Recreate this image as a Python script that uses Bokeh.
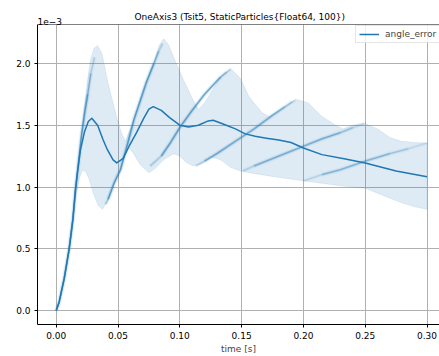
from bokeh.plotting import figure
from bokeh.models import Range1d, FixedTicker, Span, Legend, LegendItem, NumeralTickFormatter, Title
from bokeh.embed import file_html
from bokeh.resources import INLINE

title_text = "OneAxis3 (Tsit5, StaticParticles{Float64, 100})"
x_label = "time [s]"
series_name = "angle_error"
y_exponent_label = "1e\u22123"

x_ticks = [0.00, 0.05, 0.10, 0.15, 0.20, 0.25, 0.30]
y_ticks = [0.0, 0.5, 1.0, 1.5, 2.0]

# mean of the particles (values in units of 1e-3)
mean_t = [0.0, 0.0024, 0.0065, 0.0105, 0.0135, 0.0156, 0.0175, 0.0196, 0.023, 0.026, 0.0288,
          0.0335, 0.038, 0.0415, 0.046, 0.049, 0.054, 0.059, 0.065, 0.071, 0.075, 0.0785,
          0.085, 0.092, 0.100, 0.107, 0.115, 0.123, 0.127, 0.135, 0.145, 0.153, 0.161,
          0.170, 0.180, 0.190, 0.200, 0.215, 0.234, 0.250, 0.275, 0.300]
mean_v = [0.0, 0.07, 0.26, 0.50, 0.74, 0.98, 1.14, 1.30, 1.45, 1.53, 1.557,
          1.50, 1.38, 1.30, 1.22, 1.195, 1.23, 1.33, 1.44, 1.56, 1.63, 1.65,
          1.62, 1.56, 1.50, 1.485, 1.50, 1.535, 1.54, 1.51, 1.47, 1.43, 1.41,
          1.395, 1.38, 1.36, 1.316, 1.262, 1.227, 1.195, 1.13, 1.083]

# upper edge of the particle band
upper_t = [0.0, 0.0024, 0.0065, 0.0105, 0.0132, 0.0165, 0.0207, 0.0253, 0.0277, 0.0305,
           0.0334, 0.037, 0.0415, 0.0455, 0.0496, 0.053, 0.056, 0.0628, 0.070, 0.079,
           0.083, 0.087, 0.091, 0.095, 0.103, 0.111, 0.115, 0.120, 0.133, 0.141,
           0.149, 0.156, 0.1667, 0.172, 0.180, 0.1936, 0.204, 0.215, 0.226, 0.232,
           0.240, 0.249, 0.260, 0.270, 0.279, 0.290, 0.300]
upper_v = [0.0, 0.07, 0.27, 0.52, 0.74, 1.06, 1.46, 1.86, 2.03, 2.12,
           2.146, 2.08, 1.86, 1.70, 1.54, 1.43, 1.37, 1.543, 1.75, 2.00,
           2.14, 2.20, 2.15, 2.05, 1.865, 1.70, 1.63, 1.68, 1.89, 1.96,
           1.88, 1.73, 1.60, 1.57, 1.61, 1.71, 1.68, 1.57, 1.50, 1.47,
           1.50, 1.517, 1.47, 1.40, 1.37, 1.36, 1.356]

# lower edge of the particle band
lower_t = [0.0, 0.0024, 0.0065, 0.0105, 0.0135, 0.016, 0.019, 0.0215, 0.024, 0.0264,
           0.030, 0.034, 0.0375, 0.0415, 0.047, 0.052, 0.055, 0.058, 0.062, 0.068,
           0.075, 0.080, 0.087, 0.095, 0.100, 0.105, 0.111, 0.118, 0.126, 0.133,
           0.141, 0.149, 0.160, 0.172, 0.200, 0.215, 0.230, 0.250, 0.265, 0.279,
           0.290, 0.300]
lower_v = [0.0, 0.06, 0.25, 0.48, 0.70, 0.93, 1.08, 1.14, 1.12, 1.07,
           0.95, 0.85, 0.82, 0.887, 1.035, 1.14, 1.24, 1.32, 1.28, 1.18,
           1.115, 1.15, 1.22, 1.27, 1.25, 1.20, 1.17, 1.19, 1.24, 1.22,
           1.16, 1.13, 1.11, 1.09, 1.05, 1.03, 1.01, 0.99, 0.93, 0.874,
           0.84, 0.82]

# dark ridges where many particles bunch together
ridge1_t = [0.0, 0.0024, 0.0065, 0.0105, 0.0135, 0.0156, 0.018, 0.0205, 0.023, 0.0255, 0.028, 0.031]
ridge1_v = [0.0, 0.07, 0.26, 0.50, 0.74, 0.98, 1.20, 1.42, 1.60, 1.75, 1.92, 2.05]
ridge2_t = [0.040, 0.042, 0.047, 0.052, 0.0575, 0.0628, 0.068, 0.073, 0.079, 0.083, 0.086]
ridge2_v = [0.86, 0.90, 1.035, 1.14, 1.34, 1.543, 1.70, 1.85, 2.00, 2.10, 2.16]
ridge3_t = [0.076, 0.085, 0.0925, 0.1006, 0.110, 0.120, 0.133, 0.138, 0.141]
ridge3_v = [1.17, 1.25, 1.36, 1.49, 1.62, 1.75, 1.89, 1.93, 1.95]
ridge4_t = [0.113, 0.120, 0.130, 0.145, 0.160, 0.175, 0.185, 0.191, 0.1936]
ridge4_v = [1.17, 1.21, 1.27, 1.37, 1.47, 1.58, 1.65, 1.69, 1.70]
ridge5_t = [0.151, 0.160, 0.180, 0.200, 0.215, 0.230, 0.240, 0.249]
ridge5_v = [1.13, 1.17, 1.25, 1.33, 1.39, 1.44, 1.48, 1.51]
ridge6_t = [0.200, 0.215, 0.230, 0.250, 0.270, 0.285, 0.300]
ridge6_v = [1.05, 1.10, 1.14, 1.21, 1.27, 1.31, 1.356]

# (times, values, strength, fade-in at start)
ridges = [(ridge1_t, ridge1_v, 1.0, False), (ridge2_t, ridge2_v, 1.0, True),
          (ridge3_t, ridge3_v, 0.9, True), (ridge4_t, ridge4_v, 0.75, True),
          (ridge5_t, ridge5_v, 0.7, True), (ridge6_t, ridge6_v, 0.6, True)]

BLUE = "#1f77b4"
FONT = "DejaVu Sans"
X0, X1 = -0.01513, 0.31011
Y0, Y1 = -0.1125, 2.315

p = figure(width=439, height=356, output_backend="svg", toolbar_location=None,
           x_range=Range1d(X0, X1), y_range=Range1d(Y0, Y1),
           min_border_left=37, min_border_right=0, min_border_top=24, min_border_bottom=30)
p.background_fill_color = "white"
p.border_fill_color = "white"
p.outline_line_color = None

# offset text of the y axis (row next to the frame)
p.add_layout(Title(text=y_exponent_label, align="left", offset=0, standoff=0,
                   text_font=FONT, text_font_size="9px", text_font_style="normal",
                   text_color="black"), "above")
# main title (outer row, pulled down so that it sits level with the offset text)
p.title = Title(text=title_text, align="left", offset=97, standoff=-13,
                text_font=FONT, text_font_size="9px", text_font_style="normal",
                text_color="black")

# band of particles
band_x = list(upper_t) + list(reversed(lower_t))
band_y = list(upper_v) + list(reversed(lower_v))
p.patch(band_x, band_y, fill_color=BLUE, fill_alpha=0.15, line_color=BLUE, line_alpha=0.1, line_width=1)

# ridges: a solid body plus fading end segments
for rt, rv, s, fade_in in ridges:
    start = 1 if fade_in else 0
    end = len(rt) - 2
    body_t, body_v = rt[start:end], rv[start:end]
    for width, alpha in ((4.5, 0.1), (2.5, 0.25), (1.3, 0.6)):
        p.line(body_t, body_v, line_color=BLUE, line_width=width, line_alpha=alpha * s,
               line_join="round", line_cap="butt")
        seg_x0, seg_y0, seg_x1, seg_y1, seg_a = [], [], [], [], []
        if fade_in:
            seg_x0.append(rt[0]); seg_y0.append(rv[0]); seg_x1.append(rt[1]); seg_y1.append(rv[1])
            seg_a.append(alpha * s * 0.4)
        for i, k in ((end - 1, 0.65), (end, 0.3)):
            seg_x0.append(rt[i]); seg_y0.append(rv[i]); seg_x1.append(rt[i + 1]); seg_y1.append(rv[i + 1])
            seg_a.append(alpha * s * k)
        p.segment(x0=seg_x0, y0=seg_y0, x1=seg_x1, y1=seg_y1, line_color=BLUE, line_width=width,
                  line_alpha=seg_a, line_cap="butt")

mean_r = p.line(mean_t, mean_v, line_color=BLUE, line_width=1.5, line_join="round")

legend = Legend(items=[LegendItem(label=series_name, renderers=[mean_r])], location=(318, 281))
legend.label_text_font = FONT
legend.label_text_font_size = "9px"
legend.glyph_width = 20
legend.glyph_height = 10
legend.label_height = 10
legend.label_standoff = 6
legend.padding = 3
legend.spacing = 0
legend.margin = 0
legend.border_line_color = "#cccccc"
legend.background_fill_alpha = 0.8
p.add_layout(legend)

# axes
for ax in (p.xaxis[0], p.yaxis[0]):
    ax.axis_line_color = "black"
    ax.axis_line_width = 1
    ax.major_tick_line_color = "black"
    ax.major_tick_out = 3
    ax.major_tick_in = 0
    ax.minor_tick_line_color = None
    ax.major_label_text_font = FONT
    ax.major_label_text_font_size = "9px"
    ax.major_label_text_color = "black"
    ax.major_label_standoff = 4

p.xaxis.ticker = FixedTicker(ticks=x_ticks)
p.yaxis.ticker = FixedTicker(ticks=y_ticks)
p.xaxis.formatter = NumeralTickFormatter(format="0.00")
p.yaxis.formatter = NumeralTickFormatter(format="0.0")
p.xaxis.axis_label = x_label
p.xaxis.axis_label_text_font = FONT
p.xaxis.axis_label_text_font_size = "9px"
p.xaxis.axis_label_text_font_style = "normal"
p.xaxis.axis_label_standoff = 2

p.xgrid.ticker = FixedTicker(ticks=x_ticks)
p.ygrid.ticker = FixedTicker(ticks=y_ticks)
p.grid.grid_line_color = "#b0b0b0"
p.grid.grid_line_width = 1

p.add_layout(Span(location=Y1, dimension="width", line_color="black", line_width=1))

open("out.html", "w").write(file_html(p, INLINE))
